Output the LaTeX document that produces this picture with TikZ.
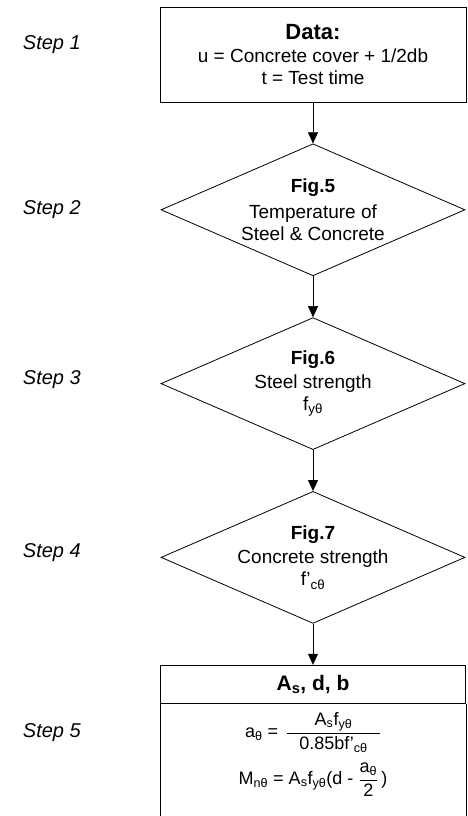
\documentclass[tikz,border=0pt]{standalone}
\usepackage{amsmath}
\usepackage{fontspec}
\setmainfont{Liberation Sans}
\usepackage{tikz}
\usetikzlibrary{positioning,shapes,arrows}
\usetikzlibrary{arrows.meta}
\tikzstyle{box}=[rectangle, draw=black, line width=0.8pt, text centered, align=center, text=black, minimum width=306pt, minimum height=95pt, inner sep=0pt]
\tikzstyle{decision}=[diamond, draw=black, line width=0.8pt, align=center, text=black, minimum width=304pt, minimum height=132pt, shape aspect=2.3, inner sep=0pt]
\tikzstyle{steplabel}=[anchor=east, inner sep=0pt, font=\fontsize{20}{22}\selectfont\itshape]
\tikzset{>={Triangle[width=10pt,length=11pt]}}

\begin{document}
\begin{tikzpicture}[font=\fontsize{19}{22}\selectfont]
        \useasboundingbox (0,0) rectangle (467pt,-816pt);

        \node (data)[box] at (313pt,-54.5pt) {{\fontsize{22}{22}\selectfont\textbf{Data:}}\\[1pt] u = Concrete cover + 1/2db\\ t = Test time};

        \node (fig5)[decision, below=41pt of data] {\textbf{Fig.5}\\[4pt] Temperature of\\ Steel \& Concrete};
        \node (fig6)[decision, below=41pt of fig5] {\textbf{Fig.6}\\[2pt] Steel strength\\ f\textsubscript{yθ}};
        \node (fig7)[decision, below=41pt of fig6] {\textbf{Fig.7}\\[2pt] Concrete strength\\ f’\textsubscript{cθ}};

        \node (moment)[box, minimum width=305pt, minimum height=38pt, below=41pt of fig7, font=\fontsize{21}{22}\selectfont] {\textbf{A\textsubscript{s}, d, b}};
        \node (formulas)[below=5pt of moment, align=center, font=\fontsize{18}{21}\selectfont]
            {a\textsubscript{θ} = \,$\dfrac{\mbox{A\textsubscript{s}f\textsubscript{yθ}}}{\mbox{\hspace{12pt}0.85bf’\textsubscript{cθ}\hspace{12pt}}}$\\[9pt]
             M\textsubscript{nθ} = A\textsubscript{s}f\textsubscript{yθ}(d - $\dfrac{\mbox{a\textsubscript{θ}}}{\mbox{2}}$\,)};

        \coordinate (bottom) at (0,-816pt);
        \draw [line width=0.8pt] (moment.south west) -- (moment.south west |- bottom);
        \draw [line width=0.8pt] (moment.south east) -- (moment.south east |- bottom);

        \draw [->] (data) -- (fig5);
        \draw [->] (fig5) -- (fig6);
        \draw [->] (fig6) -- (fig7);
        \draw [->] (fig7) -- (moment);

        \foreach \n/\y in {1/45,2/210,3/380,4/553,5/733}{
            \node (step\n)[steplabel] at (81pt,-\y*1pt) {Step \n};
        };
    \end{tikzpicture}
\end{document}
